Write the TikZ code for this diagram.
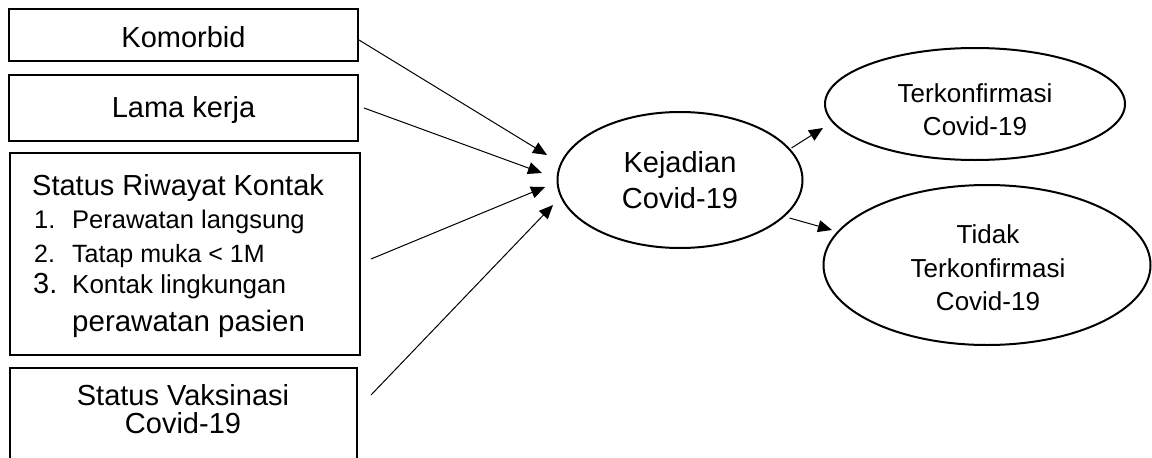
\documentclass[tikz,border=0pt]{standalone}
\usepackage{fontspec}
\setmainfont{Liberation Sans}
\usetikzlibrary{arrows.meta,shapes.geometric}

\newcommand{\fs}[1]{\fontsize{#1}{#1}\selectfont}

\tikzset{
  factorbox/.style={draw, line width=2pt, rectangle, inner sep=0pt},
  oval/.style={draw, line width=2pt, ellipse, inner sep=0pt},
  arr/.style={line width=1pt, -{Triangle[length=14pt,width=12pt]}},
  txt/.style={inner sep=0pt, anchor=base west},
  ctxt/.style={inner sep=0pt, anchor=base, align=center},
}

\begin{document}
\begin{tikzpicture}[x=1pt,y=-1pt]
  \useasboundingbox (0,0) rectangle (1152,458);
  \fill[white] (0,0) rectangle (1152,458);

  % factor boxes on the left
  \node[factorbox, minimum width=349pt, minimum height=52pt] (komorbid) at (183.5,35) {};
  \node[ctxt] at (183.5,47) {\fs{29}Komorbid};

  \node[factorbox, minimum width=349pt, minimum height=66pt] (lama) at (183.5,108) {};
  \node[ctxt] at (183.5,117) {\fs{29}Lama kerja};

  \node[factorbox, minimum width=350pt, minimum height=202pt] (kontak) at (185,254) {};
  \node[txt] at (32,195) {\fs{29}Status Riwayat Kontak};
  \node[txt] at (34,228) {\fs{25.5}1.};
  \node[txt] at (72,228) {\fs{25.5}Perawatan langsung};
  \node[txt] at (34,262) {\fs{25}2.};
  \node[txt] at (72,262) {\fs{25}Tatap muka < 1M};
  \node[txt] at (33,293) {\fs{29}3.};
  \node[txt] at (72,293) {\fs{26}Kontak lingkungan};
  \node[txt] at (72,331) {\fs{29.5}perawatan pasien};

  \node[factorbox, minimum width=347pt, minimum height=92pt] (vaksin) at (183.5,414) {};
  \node[ctxt] at (183,405) {\fs{29}Status Vaksinasi};
  \node[ctxt] at (183,433) {\fs{29}Covid-19};

  % outcome ellipses
  \node[oval, minimum width=245pt, minimum height=136pt] (kejadian) at (680,180) {};
  \node[ctxt] at (680,172) {\fs{29}Kejadian};
  \node[ctxt] at (680,208) {\fs{29}Covid-19};

  \node[oval, minimum width=300pt, minimum height=112pt] (konf) at (975,104) {};
  \node[ctxt] at (975,102) {\fs{26}Terkonfirmasi};
  \node[ctxt] at (975,135) {\fs{26}Covid-19};

  \node[oval, minimum width=327pt, minimum height=160pt] (tidak) at (987,265) {};
  \node[ctxt] at (988,243) {\fs{26}Tidak};
  \node[ctxt] at (988,277) {\fs{26}Terkonfirmasi};
  \node[ctxt] at (988,310) {\fs{26}Covid-19};

  % arrow end points
  \coordinate (t1) at (547,155);
  \coordinate (t2) at (542,173);
  \coordinate (t3) at (545,187);
  \coordinate (t4) at (553,205);
  \coordinate (o1) at (823,128);
  \coordinate (o2) at (832,230);

  % connectors
  \draw[arr] (komorbid.east) ++(0,5) -- (t1);
  \draw[arr] (lama.east) ++(5,0) -- (t2);
  \draw[arr] (kontak.east) ++(10,5) -- (t3);
  \draw[arr] (vaksin.east) ++(13,-19) -- (t4);
  \draw[arr] (kejadian.east) ++(-12,-32) -- (o1);
  \draw[arr] (kejadian.east) ++(-14,38) -- (o2);
\end{tikzpicture}
\end{document}
